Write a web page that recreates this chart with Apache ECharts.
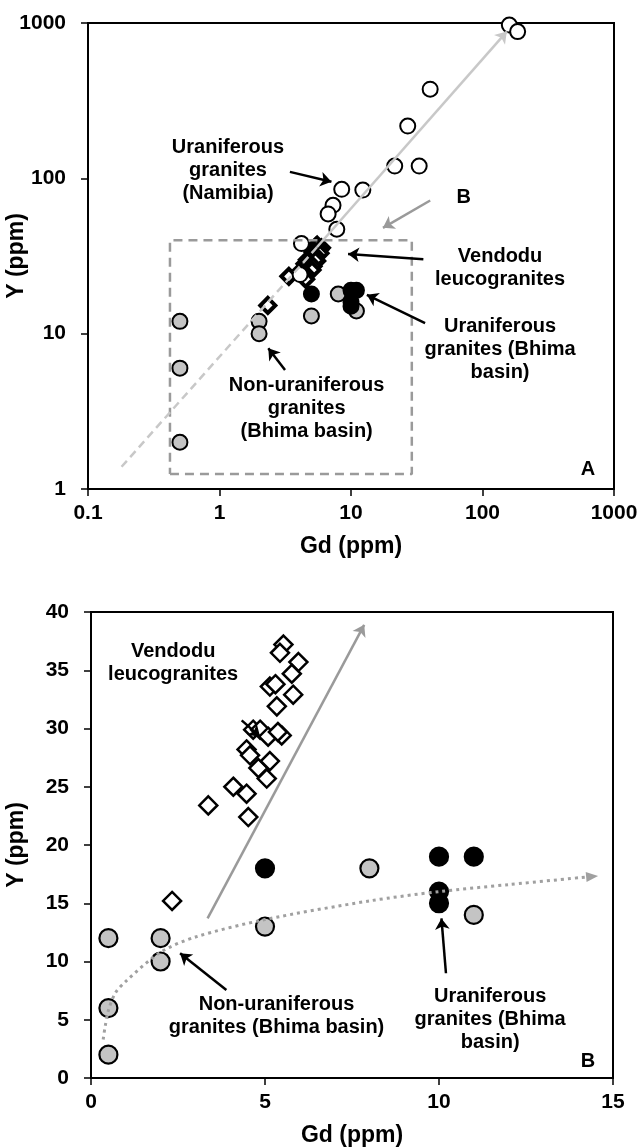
<!DOCTYPE html>
<html>
<head>
<meta charset="utf-8">
<script src="https://cdn.jsdelivr.net/npm/echarts@6/dist/echarts.min.js"></script>
<style>
html,body{margin:0;padding:0;background:#fff;}
#main{width:642px;height:1148px;}
</style>
</head>
<body>
<div id="main"></div>
<script>
/*------------数据-------------*/
// uraniferous granites (Namibia), only in the log plot
var namibiaGd = [160, 185, 40, 27, 21.5, 33, 12.3, 8.5, 7.3, 6.7, 7.8, 4.2, 4.1];
var namibiaY  = [970, 880, 375, 217, 120, 120, 84, 85, 67, 59, 47, 38, 24];

// Vendodu leucogranites
var vendoduGd = [5.53, 5.43, 5.96, 5.77, 5.14, 5.30, 5.81, 5.34, 4.66, 4.86, 5.09, 5.48,
                 5.37, 4.47, 4.57, 4.81, 5.14, 5.05, 4.09, 4.47, 3.37, 4.52, 2.33];
var vendoduY  = [37.2, 36.5, 35.7, 34.7, 33.6, 33.8, 32.9, 31.9, 29.9, 29.9, 29.3, 29.4,
                 29.7, 28.2, 27.7, 26.6, 27.2, 25.7, 25.0, 24.4, 23.4, 22.4, 15.2];

// non-uraniferous granites (Bhima basin)
var nonUranGd = [0.5, 0.5, 0.5, 2, 2, 5, 8, 11];
var nonUranY  = [12, 6, 2, 12, 10, 13, 18, 14];

// uraniferous granites (Bhima basin)
var uranGd = [5, 10, 11, 10, 10];
var uranY  = [18, 19, 19, 16, 15];

// trend lines
var trendTopGd = [0.18, 5.5];
var trendTopY  = [1.39, 36];
var trendCurveGd = [0.35, 0.4, 0.5, 0.7, 1, 2, 3, 5, 8, 10, 12, 14.4];
var trendCurveY  = [3.3, 4.3, 5.8, 7.3, 8.3, 10.8, 12.1, 13.6, 15.2, 16.0, 16.6, 17.3];

// dashed box B drawn in plot A
var boxGd = [0.42, 29, 29, 0.42, 0.42];
var boxY  = [1.25, 1.25, 40, 40, 1.25];

// axis ticks
var logTicksX = [0.1, 1, 10, 100, 1000];
var logTicksY = [1, 10, 100, 1000];

/*------------注释-------------*/
var notesTop = [
	{text:'Uraniferous\ngranites\n(Namibia)', at:[1.16, 113]},
	{text:'Vendodu\nleucogranites', at:[136, 26.5]},
	{text:'Uraniferous\ngranites (Bhima\nbasin)', at:[136, 7.9]},
	{text:'Non-uraniferous\ngranites\n(Bhima basin)', at:[4.6, 3.31]},
	{text:'B', at:[72, 75]},
	{text:'A', at:[634, 1.33]}
];
var arrowsTop = [
	{from:[3.43, 110], to:[7.1, 95], color:'#000'},
	{from:[35.5, 30.1], to:[9.5, 32.6], color:'#000'},
	{from:[36.6, 11.7], to:[13.2, 17.8], color:'#000'},
	{from:[3.15, 5.84], to:[2.35, 8.05], color:'#000'},
	{from:[40, 72], to:[17.5, 48], color:'#9a9a9a'},
	{from:[5.5, 36], to:[153, 880], color:'#c8c8c8'}
];
var notesBottom = [
	{text:'Vendodu\nleucogranites', at:[2.36, 35.6]},
	{text:'Non-uraniferous\ngranites (Bhima basin)', at:[5.33, 5.34]},
	{text:'Uraniferous\ngranites (Bhima\nbasin)', at:[11.47, 4.98]},
	{text:'B', at:[14.28, 1.4]}
];
var arrowsBottom = [
	{from:[4.33, 30.7], to:[4.86, 29.3], color:'#000'},
	{from:[3.89, 7.55], to:[2.56, 10.7], color:'#000'},
	{from:[10.2, 8.99], to:[10.07, 13.7], color:'#000'},
	{from:[3.35, 13.7], to:[7.85, 38.9], color:'#9a9a9a'}
];

function zip(a, b){
	return a.map(function(v, i){ return [v, b[i]]; });
}

function axisStyle(extra){
	var o = {
		axisLine:{show:true, onZero:false, lineStyle:{color:'#000', width:2}},
		axisTick:{show:true, inside:false, length:7, lineStyle:{color:'#000', width:1.5}},
		splitLine:{show:false},
		minorTick:{show:false},
		axisLabel:{color:'#000', fontSize:21, fontWeight:'bold'},
		nameLocation:'middle',
		nameMoveOverlap:false,
		nameTextStyle:{color:'#000', fontSize:23, fontWeight:'bold'}
	};
	for(var k in extra){
		if(k === 'axisLabel'){
			for(var j in extra[k]) o.axisLabel[j] = extra[k][j];
		}else{
			o[k] = extra[k];
		}
	}
	return o;
}

// arrows of the notes, carried by a hidden point series
function arrowSeries(arrows, idx){
	return {
		type:'scatter',
		xAxisIndex:idx, yAxisIndex:idx,
		silent:true,
		symbolSize:1,
		itemStyle:{color:'rgba(0,0,0,0)'},
		z:10,
		data:[arrows[0].from],
		markLine:{
			silent:true,
			animation:false,
			symbol:['none', 'arrow'],
			symbolSize:11,
			label:{show:false},
			lineStyle:{type:'solid', width:2.5, color:'#000'},
			data:arrows.map(function(a){
				return [
					{coord:a.from, lineStyle:{color:a.color, width:2.5, type:'solid'}, itemStyle:{color:a.color}},
					{coord:a.to, lineStyle:{color:a.color, width:2.5, type:'solid'}, itemStyle:{color:a.color}}
				];
			})
		}
	};
}

function points(data, idx, symbol, size, fill, bw){
	return {
		type:'scatter',
		xAxisIndex:idx, yAxisIndex:idx,
		symbol:symbol,
		symbolSize:size,
		itemStyle:{color:fill, borderColor:'#000', borderWidth:bw, opacity:1},
		data:data
	};
}

var curveData = zip(trendCurveGd, trendCurveY).map(function(p, i, arr){
	if(i === arr.length - 1){
		return {value:p, symbol:'triangle', symbolSize:[10, 12], symbolRotate:-85};
	}
	return {value:p, symbol:'none'};
});

var chart = echarts.init(document.getElementById('main'));
var option = {
	animation:false,
	textStyle:{fontFamily:'Liberation Sans, Arial, sans-serif'},
	grid:[
		{left:88, top:23, width:526, height:466, outerBoundsMode:'none', containLabel:false,
			show:true, borderColor:'#000', borderWidth:2, backgroundColor:'#fff'},
		{left:91, top:612, width:522, height:466, outerBoundsMode:'none', containLabel:false,
			show:true, borderColor:'#000', borderWidth:2, backgroundColor:'#fff'}
	],
	xAxis:[
		axisStyle({gridIndex:0, type:'log', logBase:10, min:logTicksX[0], max:logTicksX[logTicksX.length-1],
			name:'Gd (ppm)', nameGap:46,
			axisLabel:{margin:14, formatter:function(v){ return +(+v).toPrecision(3); }}}),
		axisStyle({gridIndex:1, type:'value', min:0, max:15, interval:5,
			name:'Gd (ppm)', nameGap:46, axisLabel:{margin:14}})
	],
	yAxis:[
		axisStyle({gridIndex:0, type:'log', logBase:10, min:logTicksY[0], max:logTicksY[logTicksY.length-1],
			name:'Y (ppm)', nameGap:60, axisLabel:{margin:22, formatter:function(v){ return +(+v).toPrecision(3); }}}),
		axisStyle({gridIndex:1, type:'value', min:0, max:40, interval:5,
			name:'Y (ppm)', nameGap:63, axisLabel:{margin:22}})
	],
	series:[
		/*------------图A-------------*/
		{
			type:'line', xAxisIndex:0, yAxisIndex:0, silent:true, showSymbol:false,
			lineStyle:{color:'#9a9a9a', width:2.5, type:[9, 6]},
			data:zip(boxGd, boxY)
		},
		{
			type:'line', xAxisIndex:0, yAxisIndex:0, silent:true, showSymbol:false,
			lineStyle:{color:'#c8c8c8', width:2.5, type:[8, 5]},
			data:zip(trendTopGd, trendTopY)
		},
		points(zip(vendoduGd, vendoduY), 0, 'diamond', 15, '#fff', 4),
		points(zip(namibiaGd, namibiaY), 0, 'circle', 15, '#fff', 2),
		points(zip(nonUranGd, nonUranY), 0, 'circle', 15, '#c4c4c4', 2),
		points(zip(uranGd, uranY), 0, 'circle', 15, '#000', 2),
		arrowSeries(arrowsTop, 0),
		/*------------图B-------------*/
		{
			type:'line', xAxisIndex:1, yAxisIndex:1, silent:true, showSymbol:true,
			smooth:0.3,
			lineStyle:{color:'#a0a0a0', width:3, type:[3, 4]},
			itemStyle:{color:'#a0a0a0'},
			data:curveData
		},
		points(zip(vendoduGd, vendoduY), 1, 'diamond', 18, '#fff', 2.5),
		points(zip(nonUranGd, nonUranY), 1, 'circle', 18, '#c4c4c4', 2.2),
		points(zip(uranGd, uranY), 1, 'circle', 18, '#000', 2.2),
		arrowSeries(arrowsBottom, 1)
	]
};
if(option && typeof option === 'object'){
	chart.setOption(option);
}

/*------------注释文字-------------*/
function noteText(notes, gridIndex){
	return notes.map(function(n){
		var p = chart.convertToPixel({gridIndex:gridIndex}, n.at);
		return {
			type:'text', x:p[0], y:p[1], z:100, silent:true,
			style:{
				text:n.text, fill:'#000',
				font:'bold 20px "Liberation Sans", Arial, sans-serif',
				lineHeight:23, align:'center', verticalAlign:'middle'
			}
		};
	});
}
chart.setOption({graphic:noteText(notesTop, 0).concat(noteText(notesBottom, 1))});
</script>
</body>
</html>
